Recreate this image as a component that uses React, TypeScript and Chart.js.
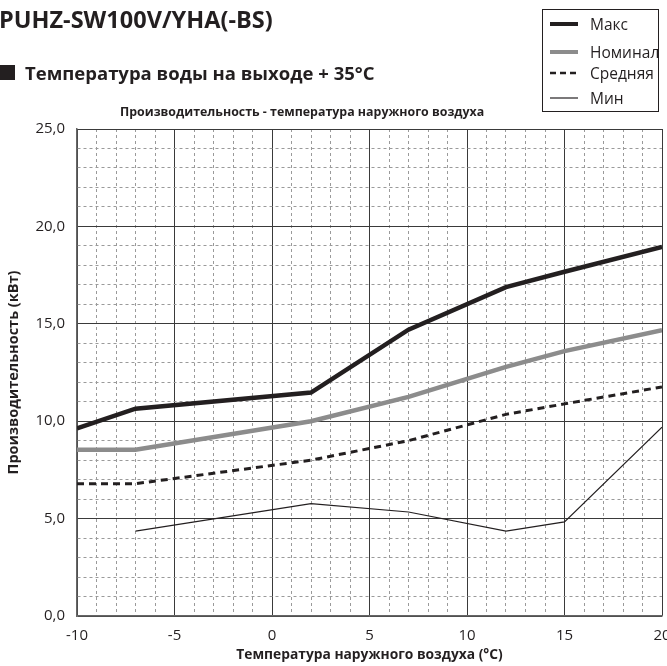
import React, { useEffect, useRef } from 'react';
import { Chart, registerables } from 'chart.js';
Chart.register(...registerables);

const temps = [-10, -7, 2, 7, 12, 15, 20];
const maxVals = [9.63, 10.64, 11.47, 14.7, 16.88, 17.67, 18.95];
const nomVals = [8.53, 8.53, 10.0, 11.25, 12.79, 13.6, 14.67];
const midVals = [6.79, 6.79, 8.0, 9.0, 10.35, 10.89, 11.76];
const minVals: (number | null)[] = [null, 4.36, 5.77, 5.34, 4.36, 4.83, 9.69];
const seriesNames = ['Макс', 'Номинал', 'Средняя', 'Мин'];
const xTickValues = [-10, -5, 0, 5, 10, 15, 20];
const yTickValues = [0, 5, 10, 15, 20, 25];
const yTickLabels = ['0,0', '5,0', '10,0', '15,0', '20,0', '25,0'];

const FONT = "'Open Sans', sans-serif";
const INK = '#231f20';
const GRAY = '#8c8c8c';

function pts(vals: (number | null)[]) {
  const out: { x: number; y: number }[] = [];
  vals.forEach((v, i) => {
    if (v !== null) out.push({ x: temps[i], y: v });
  });
  return out;
}

export default function App() {
  const ref = useRef<HTMLCanvasElement>(null);
  useEffect(() => {
    if (!ref.current) return;
    const isMajor = (ctx: any) => ctx.tick && Math.abs(ctx.tick.value % 5) < 1e-6;
    const chart = new Chart(ref.current, {
      type: 'line',
      data: {
        datasets: [
          { label: seriesNames[0], data: pts(maxVals), borderColor: INK, borderWidth: 4.5, pointRadius: 0, tension: 0 },
          { label: seriesNames[1], data: pts(nomVals), borderColor: GRAY, borderWidth: 4.5, pointRadius: 0, tension: 0 },
          { label: seriesNames[2], data: pts(midVals), borderColor: INK, borderWidth: 3, borderDash: [7, 5], pointRadius: 0, tension: 0 },
          { label: seriesNames[3], data: pts(minVals), borderColor: INK, borderWidth: 1.2, pointRadius: 0, tension: 0 },
        ],
      },
      options: {
        animation: false,
        responsive: false,
        devicePixelRatio: 1,
        layout: { padding: { top: 129, right: 5, left: 0, bottom: 0 } },
        plugins: { legend: { display: false }, tooltip: { enabled: false } },
        scales: {
          x: {
            type: 'linear',
            min: -10,
            max: 20,
            afterFit: (s: any) => { s.height = 50; s.paddingLeft = 0; s.paddingRight = 0; },
            ticks: {
              stepSize: 1,
              autoSkip: false,
              maxRotation: 0,
              padding: 11,
              color: INK,
              font: { family: FONT, size: 15 },
              callback: (v: any) => (xTickValues.includes(Number(v)) ? String(v) : ''),
            },
            grid: {
              drawTicks: false,
              color: (ctx: any) => (isMajor(ctx) ? '#3a3a3a' : '#9a9a9a'),
              lineWidth: 1,
            },
            border: {
              display: true,
              color: '#666',
              width: 1.5,
              dash: (ctx: any) => (ctx.tick && !isMajor(ctx) ? [3, 3] : []),
            } as any,
            title: {
              display: true,
              text: 'Температура наружного воздуха (°C)',
              color: INK,
              font: { family: FONT, size: 13.8, weight: 'bold' },
              padding: { top: 0, bottom: 3 },
            },
          },
          y: {
            type: 'linear',
            min: 0,
            max: 25,
            afterFit: (s: any) => { s.width = 77; s.paddingTop = 0; s.paddingBottom = 0; },
            ticks: {
              stepSize: 1,
              autoSkip: false,
              padding: 12,
              color: INK,
              font: { family: FONT, size: 15 },
              callback: (v: any) => {
                const i = yTickValues.indexOf(Number(v));
                return i >= 0 ? yTickLabels[i] : '';
              },
            },
            grid: {
              drawTicks: false,
              color: (ctx: any) => (isMajor(ctx) ? '#3a3a3a' : '#9a9a9a'),
              lineWidth: 1,
            },
            border: {
              display: true,
              color: '#666',
              width: 1.5,
              dash: (ctx: any) => (ctx.tick && !isMajor(ctx) ? [3, 3] : []),
            } as any,
            title: {
              display: true,
              text: 'Производительность (кВт)',
              color: INK,
              font: { family: FONT, size: 14.5, weight: 'bold' },
              padding: { top: 5, bottom: 0 },
            },
          },
        },
      } as any,
    });
    return () => chart.destroy();
  }, []);

  const legendRow = (top: number, name: string, stroke: string, width: number, dash?: string) => (
    <div key={name} style={{ position: 'absolute', left: 0, top, width: 130, height: 20 }}>
      <svg width={40} height={20} style={{ position: 'absolute', left: 3, top: 0 }}>
        <line x1={4} y1={10} x2={32} y2={10} stroke={stroke} strokeWidth={width} strokeDasharray={dash} />
      </svg>
      <span style={{ position: 'absolute', left: 47, top: 0, lineHeight: '20px', fontSize: 15.5, color: INK, whiteSpace: 'nowrap' }}>{name}</span>
    </div>
  );

  return (
    <div style={{ position: 'fixed', left: 0, top: 0, width: 667, height: 666, background: '#fff', fontFamily: FONT, overflow: 'hidden' }}>
      <canvas ref={ref} width={667} height={666} style={{ position: 'absolute', left: 0, top: 0, width: 667, height: 666 }} />
      <div style={{ position: 'absolute', left: -1, top: 4, fontSize: 23.5, fontWeight: 'bold', color: INK, whiteSpace: 'nowrap', lineHeight: '30px' }}>
        PUHZ-SW100V/YHA(-BS)
      </div>
      <div style={{ position: 'absolute', left: 0, top: 65, width: 15, height: 15, background: INK }} />
      <div style={{ position: 'absolute', left: 25, top: 60, fontSize: 18.5, fontWeight: 'bold', color: INK, whiteSpace: 'nowrap', lineHeight: '26px' }}>
        Температура воды на выходе + 35°C
      </div>
      <div style={{ position: 'absolute', left: 120, top: 103, fontSize: 12.4, fontWeight: 'bold', color: INK, whiteSpace: 'nowrap', lineHeight: '18px' }}>
        Производительность - температура наружного воздуха
      </div>
      <div style={{ position: 'absolute', left: 542, top: 9, width: 117, height: 103, border: '1px solid ' + INK, boxSizing: 'border-box', overflow: 'visible' }}>
        {legendRow(4, seriesNames[0], INK, 4)}
        {legendRow(32, seriesNames[1], GRAY, 4)}
        {legendRow(53, seriesNames[2], INK, 2.5, '6,4')}
        {legendRow(78, seriesNames[3], INK, 1.2)}
      </div>
    </div>
  );
}
